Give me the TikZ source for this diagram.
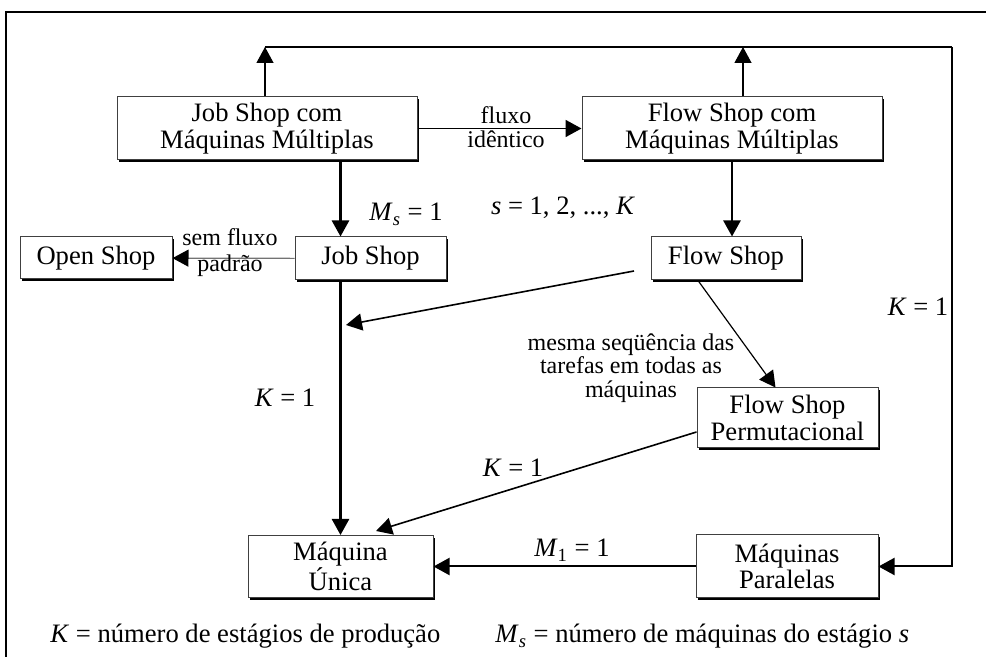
\documentclass[tikz,border=0pt]{standalone}
\usepackage{fontspec}
\setmainfont{Liberation Serif}
\usetikzlibrary{arrows.meta,shadows}

\begin{document}
\begin{tikzpicture}[x=0.5pt,y=-0.5pt,
  font=\fontsize{13.3}{13.3}\selectfont,
  caixa/.style={draw=black!75, line width=0.5pt, fill=white, align=center, inner sep=0pt,
    drop shadow={shadow xshift=1.1pt, shadow yshift=-1.1pt, fill=black, opacity=1}},
  seta/.style={-{Triangle[length=8pt,width=8.5pt,color=black]}},
  rotulo/.style={inner sep=0pt},
  nota/.style={inner sep=0pt, font=\fontsize{12}{11.8}\selectfont, align=center}]
\useasboundingbox (0,0) rectangle (986,657);
% moldura
\draw[line width=1.2pt] (6,657) -- (6,12) -- (986,12);

% caixas
\node[caixa, minimum width=150pt, minimum height=31.5pt] (jsmm) at (267,128.5)
{Job Shop com\\Máquinas Múltiplas};
\node[caixa, minimum width=150pt, minimum height=31.5pt] (fsmm) at (732,128.5)
{Flow Shop com\\Máquinas Múltiplas};
\node[caixa, minimum width=76pt, minimum height=21pt] (os) at (96,258) {Open Shop};
\node[caixa, minimum width=75.5pt, minimum height=21.5pt] (js) at (370.5,258.5) {Job Shop};
\node[caixa, minimum width=75pt, minimum height=21.5pt] (fs) at (726,258.5) {Flow Shop};
\node[caixa, minimum width=90.5pt, minimum height=30pt] (fsp) at (787.5,418)
{Flow Shop\\Permutacional};
\node[caixa, minimum width=92.5pt, minimum height=31pt] (mu) at (340.5,566.5)
{Máquina\\Única};
\node[caixa, minimum width=91pt, minimum height=31.5pt] (mp) at (787,566.5)
{Máquinas\\Paralelas};

% barramento K = 1
\coordinate (b1) at (265,47);
\coordinate (b2) at (743,47);
\coordinate (b3) at (952,47);
\draw[seta, line width=0.6pt] (jsmm.north -| b1) -- (b1);
\draw[seta, line width=0.6pt] (fsmm.north -| b2) -- (b2);
\draw[line width=0.8pt] (b1) -- (b3);
\draw[seta, line width=1pt] (b3) |- (mp.east);
\node[rotulo, anchor=base] at (918,316) {\textit{K} = 1};

% fluxo identico
\draw[seta, line width=0.9pt] (jsmm) -- (fsmm);
\node[nota, anchor=base] at (506,124) {fluxo};
\node[nota, anchor=base] at (506,148) {idêntico};

% M_s = 1
\draw[seta, line width=1.3pt] (mu.north |- jsmm.south) -- (mu.north |- js.north);
\draw[seta, line width=1.3pt] (fsmm.south) -- (fsmm.south |- fs.north);
\node[rotulo, anchor=base] at (406,221) {\textit{M}\textsubscript{\textit{s}} = 1};
\node[rotulo, anchor=base] at (563,215) {\textit{s} = 1, 2, ..., \textit{K}};

% open shop
\draw[seta, line width=0.6pt, draw=black!55] (js) -- (os);
\node[nota, anchor=base] at (230,246) {sem fluxo};
\node[nota, anchor=base] at (230,272) {padrão};

% K = 1 para maquina unica
\draw[seta, line width=1.3pt] (mu.north |- js.south) -- (mu.north);
\node[rotulo, anchor=base] at (285,407) {\textit{K} = 1};

\coordinate (fsa) at (634,271);
\coordinate (jsv) at (346,325);
\draw[seta, line width=0.8pt] (fsa) -- (jsv);

% permutacional
\draw[seta, line width=0.6pt] ([xshift=-14pt]fs.south) -- ([xshift=-6pt]fsp.north);
\node[nota] at (631,368) {mesma seqüência das\\tarefas em todas as\\máquinas};

\coordinate (mua) at (376,531);
\draw[seta, line width=0.8pt] ([yshift=-7pt]fsp.west) -- (mua);
\node[rotulo, anchor=base] at (513,477) {\textit{K} = 1};

% paralelas
\draw[seta, line width=1pt] (mp) -- (mu);
\node[rotulo, anchor=base] at (572,557) {\textit{M}\textsubscript{1} = 1};

% legenda
\node[rotulo, anchor=base west] at (50,643) {\textit{K} = número de estágios de produção};
\node[rotulo, anchor=base west] at (495,643)
{\textit{M}\textsubscript{\textit{s}} = número de máquinas do estágio \textit{s}};
\end{tikzpicture}
\end{document}
